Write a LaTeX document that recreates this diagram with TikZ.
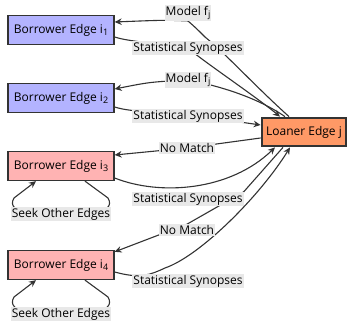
\documentclass[tikz,border=0pt]{standalone}
\usepackage{fontspec}
\setmainfont{Open Sans}
\usetikzlibrary{backgrounds,arrows.meta}
\definecolor{borrowblue}{HTML}{B3B3FF}
\definecolor{borrowpink}{HTML}{FFB3B3}
\definecolor{loanorange}{HTML}{FF9966}
\definecolor{linegray}{HTML}{333333}
\definecolor{lblgray}{HTML}{E8E8E8}
\newcommand{\idx}[1]{\raisebox{-0.35ex}{\fontsize{9}{10}\selectfont #1}}
\tikzset{
  edgebox/.style={draw=linegray,line width=1.3pt,minimum width=106pt,minimum height=29pt,inner sep=0pt,font=\fontsize{12}{14}\selectfont},
  okbox/.style={edgebox,fill=borrowblue},
  nobox/.style={edgebox,fill=borrowpink},
  loanbox/.style={edgebox,fill=loanorange,line width=2.8pt,minimum width=84pt,minimum height=28pt},
  lbl/.style={fill=lblgray,inner sep=1pt,font=\fontsize{12}{14}\selectfont},
  conn/.style={->,draw=linegray,line width=1.1pt},
}
\begin{document}
\begin{tikzpicture}[>={Stealth[length=7pt,width=6.5pt]},x=1pt,y=1pt]
\useasboundingbox (0,0) rectangle (349,321);
% edges
\node[okbox] (b1) at (61,291) {Borrower Edge i\idx{1}};
\node[okbox] (b2) at (61,223) {Borrower Edge i\idx{2}};
\node[nobox] (b3) at (61,155) {Borrower Edge i\idx{3}};
\node[nobox] (b4) at (61,56) {Borrower Edge i\idx{4}};
\node[loanbox] (lo) at (304,189) {Loaner Edge j};
% labels
\node[lbl] (m1) at (188,308) {Model f\idx{j}};
\node[lbl] (s1) at (188,273) {Statistical Synopses};
\node[lbl] (m2) at (188,241) {Model f\idx{j}};
\node[lbl] (s2) at (188,205) {Statistical Synopses};
\node[lbl] (n1) at (187,173) {No Match};
\node[lbl] (s3) at (188,122) {Statistical Synopses};
\node[lbl] (k1) at (61,107) {Seek Other Edges};
\node[lbl] (n2) at (187,91) {No Match};
\node[lbl] (s4) at (188,40) {Statistical Synopses};
\node[lbl] (k2) at (61,7) {Seek Other Edges};
\begin{scope}[on background layer]
\draw[conn] ([xshift=-15pt]lo.north) .. controls (255,235) and (225,268) .. (205,284) .. controls (196,293) .. (m1.south) .. controls (165,301) .. ([yshift=8pt]b1.east);
\draw[conn] ([yshift=-7pt]b1.east) .. controls (125,281) .. (s1.center) .. controls (200,262) and (255,225) .. ([xshift=-24pt]lo.north);
\draw[conn] ([xshift=-19pt]lo.north) .. controls (255,225) and (215,236) .. (m2.center) .. controls (150,239) .. ([yshift=9pt]b2.east);
\draw[conn] ([yshift=-9pt]b2.east) .. controls (125,211) .. (s2.center) .. controls (240,199) .. ([yshift=7pt]lo.west);
\draw[conn] ([yshift=-6pt]lo.west) -- (n1.center) -- ([yshift=11pt]b3.east);
\draw[conn] ([yshift=-12pt]b3.east) .. controls (160,125) and (230,130) .. ([xshift=-29pt]lo.south);
\draw[conn] ([xshift=-21pt]lo.south) -- (s3.north east) -- (n2.north) -- ([yshift=-2pt]b4.north east);
\draw[conn] ([yshift=-7pt]b4.east) .. controls (140,42) and (150,46) .. (165,53) .. controls (200,65) and (260,125) .. ([xshift=-14pt]lo.south);
\draw[conn] ([xshift=24pt]b3.south) -- (108,123) to[out=-60,in=0] (k1.center) to[out=180,in=-120] (14,123) -- ([xshift=-25pt]b3.south);
\draw[conn] ([xshift=24pt]b4.south) -- (108,24) to[out=-60,in=0] (k2.center) to[out=180,in=-120] (14,24) -- ([xshift=-25pt]b4.south);
\end{scope}
\end{tikzpicture}
\end{document}
